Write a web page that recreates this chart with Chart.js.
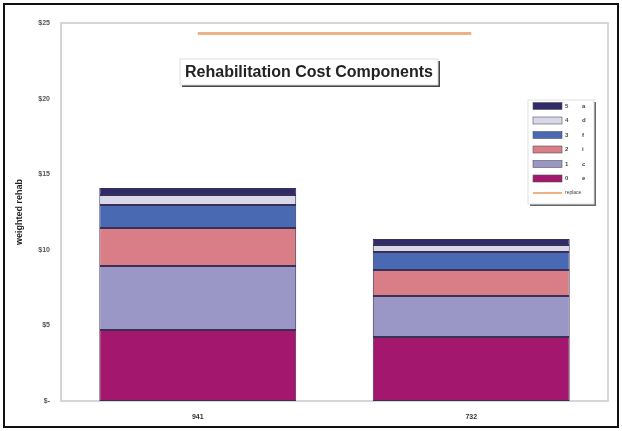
<!DOCTYPE html>
<html>
<head>
<meta charset="utf-8">
<script src="https://cdn.jsdelivr.net/npm/chart.js@4.4.1/dist/chart.umd.min.js"></script>
<style>
  html, body { margin: 0; padding: 0; background: #fff; }
  #wrap { width: 622px; height: 431px; }
</style>
</head>
<body>
<div id="wrap"><canvas id="rehabChart" width="622" height="431"></canvas></div>
<script>
// categories and stacked components (bottom to top)
const categories = ['941', '732'];
const comp1 = [4.70, 4.23];
const comp2 = [4.23, 2.71];
const comp3 = [2.51, 1.72];
const comp4 = [1.52, 1.19];
const comp5 = [0.66, 0.47];
const comp6 = [0.46, 0.40];
const replaceCost = [24.3, 24.3];

const componentNums = ['0', '1', '2', '3', '4', '5'];
const componentTags = ['e', 'c', 'i', 'f', 'd', 'a'];
const componentColors = ['#a3186e', '#9a97c6', '#d97d86', '#4a69b3', '#d9d7ea', '#2f2b6b'];
const replaceLabel = 'replace';
const replaceColor = '#ecb486';

const yTicks = [0, 5, 10, 15, 20, 25];
const yTickLabels = ['$-', '$5', '$10', '$15', '$20', '$25'];

const chartTitle = 'Rehabilitation Cost Components';
const yTitle = 'weighted rehab';

// frame, title box and inset legend
const decorations = {
    id: 'decorations',
    beforeDraw(chart) {
        const c = chart.ctx;
        const a = chart.chartArea;
        c.save();
        c.fillStyle = '#fff';
        c.fillRect(0, 0, chart.width, chart.height);
        // plot area frame
        c.strokeStyle = '#c9c9c9';
        c.lineWidth = 1.5;
        c.strokeRect(a.left, a.top, a.right - a.left, a.bottom - a.top);
        c.restore();
    },
    afterDraw(chart) {
        const c = chart.ctx;
        c.save();
        // outer border
        c.strokeStyle = '#111';
        c.lineWidth = 2;
        c.strokeRect(4, 4, 614, 423);

        // title box
        const tx = 180, ty = 59, tw = 258, th = 26;
        c.fillStyle = '#444';
        c.fillRect(tx + 2, ty + 2, tw, th);
        c.fillStyle = '#fff';
        c.fillRect(tx, ty, tw, th);
        c.strokeStyle = '#ddd';
        c.lineWidth = 1;
        c.strokeRect(tx, ty, tw, th);
        c.fillStyle = '#222';
        c.font = 'bold 16px "Liberation Sans", Arial, sans-serif';
        c.textAlign = 'center';
        c.textBaseline = 'middle';
        c.fillText(chartTitle, tx + tw / 2, ty + th / 2 + 1, tw - 8);

        // legend box
        const lx = 528, ly = 100, lw = 66, lh = 104;
        c.fillStyle = '#666';
        c.fillRect(lx + 2, ly + 2, lw, lh);
        c.fillStyle = '#fff';
        c.fillRect(lx, ly, lw, lh);
        c.strokeStyle = '#e2e2e2';
        c.strokeRect(lx, ly, lw, lh);

        c.font = 'bold 6px "Liberation Sans", Arial, sans-serif';
        c.textAlign = 'left';
        const rowH = 14.5;
        const bars = chart.data.datasets.filter(d => d.type !== 'line');
        const ordered = bars.map((ds, i) => i).reverse();
        ordered.forEach((k, i) => {
            const ds = bars[k];
            const y = ly + 6 + i * rowH;
            c.fillStyle = ds.backgroundColor;
            c.fillRect(lx + 5, y - 3.5, 29, 7);
            c.strokeStyle = '#555';
            c.lineWidth = 0.6;
            c.strokeRect(lx + 5, y - 3.5, 29, 7);
            c.fillStyle = '#444';
            c.fillText(componentNums[k], lx + 37, y);
            c.fillText(componentTags[k], lx + 54, y);
        });
        const line = chart.data.datasets.find(d => d.type === 'line');
        const yl = ly + 6 + ordered.length * rowH;
        c.strokeStyle = line.borderColor;
        c.lineWidth = 2;
        c.beginPath();
        c.moveTo(lx + 5, yl);
        c.lineTo(lx + 34, yl);
        c.stroke();
        c.fillStyle = '#444';
        c.font = '5px "Liberation Sans", Arial, sans-serif';
        c.fillText(line.label, lx + 37, yl);
        c.restore();
    }
};

const compData = [comp1, comp2, comp3, comp4, comp5, comp6];

const datasets = compData.map((vals, i) => ({
    type: 'bar',
    label: componentNums[i] + ' ' + componentTags[i],
    data: vals,
    backgroundColor: componentColors[i],
    borderColor: '#3a2f55',
    borderWidth: 1,
    borderSkipped: false,
    stack: 'rehab',
    barPercentage: 0.72,
    categoryPercentage: 1.0,
    order: 2
}));

datasets.push({
    type: 'line',
    label: replaceLabel,
    data: replaceCost,
    borderColor: replaceColor,
    borderWidth: 3,
    pointRadius: 0,
    fill: false,
    stack: 'replace',
    order: 1
});

new Chart(document.getElementById('rehabChart'), {
    data: {
        labels: categories,
        datasets: datasets
    },
    options: {
        responsive: false,
        animation: false,
        layout: {
            padding: { left: 0, top: 23, right: 14, bottom: 0 }
        },
        plugins: {
            legend: { display: false },
            tooltip: { enabled: false }
        },
        scales: {
            x: {
                stacked: true,
                grid: { display: false, drawTicks: false },
                border: { display: false },
                ticks: {
                    color: '#333',
                    padding: 12,
                    font: { family: '"Liberation Sans", Arial, sans-serif', size: 7, weight: 'bold' }
                },
                afterFit(scale) { scale.height = 30; }
            },
            y: {
                stacked: true,
                min: 0,
                max: 25,
                afterBuildTicks(scale) {
                    scale.ticks = yTicks.map(v => ({ value: v }));
                },
                grid: { display: false, drawTicks: false },
                border: { display: false },
                ticks: {
                    color: '#555',
                    padding: 11,
                    font: { family: '"Liberation Sans", Arial, sans-serif', size: 7, weight: 'bold' },
                    callback(value) {
                        const idx = yTicks.indexOf(value);
                        return idx >= 0 ? yTickLabels[idx] : '';
                    }
                },
                title: {
                    display: true,
                    text: yTitle,
                    color: '#222',
                    padding: { top: 14, bottom: 0 },
                    font: { family: '"Liberation Sans", Arial, sans-serif', size: 9, weight: 'bold' }
                },
                afterFit(scale) { scale.width = 61; }
            }
        }
    },
    plugins: [decorations]
});
</script>
</body>
</html>
